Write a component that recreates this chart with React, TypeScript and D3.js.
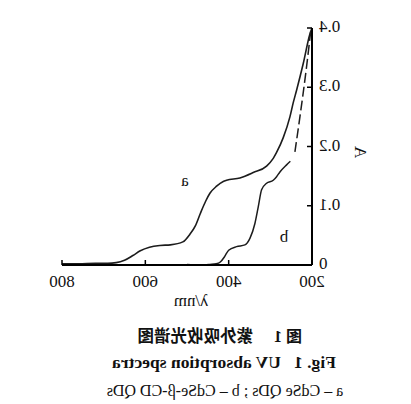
import React from "react";
import * as d3 from "d3";

// ---- data (wavelength nm, absorbance) ----
const X_TICKS = [200, 400, 600, 800];
const Y_TICKS = [0, 0.1, 0.2, 0.3, 0.4];
const Y_TICK_LABELS = ["0", "0.1", "0.2", "0.3", "0.4"];

// curve a: CdSe QDs
const A_WAVE = [800, 760, 720, 690, 670, 650, 630, 612, 590, 565, 540, 510, 493, 480, 468, 455, 445, 429, 413, 405, 373, 341, 309, 293, 285, 269, 253, 245, 237, 221, 205, 200];
const A_ABS = [0.002, 0.002, 0.003, 0.003, 0.004, 0.008, 0.016, 0.024, 0.03, 0.033, 0.034, 0.039, 0.052, 0.066, 0.087, 0.108, 0.121, 0.133, 0.141, 0.143, 0.147, 0.156, 0.167, 0.18, 0.19, 0.215, 0.25, 0.274, 0.295, 0.34, 0.39, 0.4];

// curve b: CdSe-β-CD QDs
const B_WAVE = [500, 470, 445, 430, 420, 410, 400, 381, 361, 349, 337, 329, 321, 309, 293, 285, 277, 261, 252, 241, 229, 213, 203];
const B_ABS = [0.001, 0.0, 0.001, 0.002, 0.005, 0.014, 0.025, 0.031, 0.034, 0.045, 0.07, 0.098, 0.127, 0.138, 0.143, 0.149, 0.157, 0.169, 0.175, 0.191, 0.25, 0.335, 0.395];
const B_BREAK = 247; // portion below this wavelength is drawn broken

const SERIF = "'Liberation Serif', 'DejaVu Serif', serif";
const CJK = "'Noto Sans CJK SC', sans-serif";

export default function App() {
  const W = 411;
  const H = 404;
  const x = d3.scaleLinear().domain([200, 800]).range([99, 349]);
  const y = d3.scaleLinear().domain([0, 0.4]).range([265, 28]);

  const toPts = (w: number[], a: number[]) =>
    w.map((v, i) => [v, a[i]] as [number, number]).sort((p, q) => p[0] - q[0]);

  const line = d3
    .line<[number, number]>()
    .x((d) => x(d[0]))
    .y((d) => y(d[1]))
    .curve(d3.curveMonotoneX);

  const aPts = toPts(A_WAVE, A_ABS);
  const bPts = toPts(B_WAVE, B_ABS);
  const bSolid = bPts.filter((d) => d[0] >= B_BREAK);
  const bBroken = bPts.filter((d) => d[0] <= 243);

  const ink = "#1c1c1c";

  return (
    <svg
      width={W}
      height={H}
      style={{ position: "absolute", left: 0, top: 0, background: "#fff" }}
    >
      <defs>
        <clipPath id="cap3">
          <rect x={66} y={375} width={244} height={30} />
        </clipPath>
      </defs>
      <g transform={`translate(${W},0) scale(-1,1)`}>
        {/* curves */}
        <path d={line(aPts) || ""} fill="none" stroke={ink} strokeWidth={1.6} />
        <path d={line(bSolid) || ""} fill="none" stroke={ink} strokeWidth={1.5} />
        <path
          d={line(bBroken) || ""}
          fill="none"
          stroke={ink}
          strokeWidth={1.5}
          strokeDasharray="10,4"
        />

        {/* axes */}
        <line x1={x(200)} x2={x(800)} y1={y(0)} y2={y(0)} stroke="#000" strokeWidth={2} />
        <line x1={x(200)} x2={x(200)} y1={y(0)} y2={y(0.4)} stroke="#000" strokeWidth={2} />
        {X_TICKS.map((t) => (
          <g key={"x" + t}>
            <line x1={x(t)} x2={x(t)} y1={y(0)} y2={y(0) - 5} stroke="#000" strokeWidth={1.5} />
            <text
              x={x(t)}
              y={287}
              textAnchor="middle"
              fontFamily={SERIF}
              fontSize={17}
              fill="#111"
            >
              {t}
            </text>
          </g>
        ))}
        {Y_TICKS.map((t, i) => (
          <g key={"y" + t}>
            <line x1={x(200)} x2={x(200) + 5} y1={y(t)} y2={y(t)} stroke="#000" strokeWidth={1.5} />
            <text
              x={92}
              y={y(t) + 4}
              textAnchor="end"
              fontFamily={SERIF}
              fontSize={17}
              fill="#111"
            >
              {Y_TICK_LABELS[i]}
            </text>
          </g>
        ))}

        {/* axis titles */}
        <text
          transform={`translate(51,152) rotate(-90)`}
          textAnchor="middle"
          dominantBaseline="central"
          fontFamily={SERIF}
          fontSize={17}
          fill="#111"
        >
          A
        </text>
        <text x={220} y={306} textAnchor="middle" fontFamily={SERIF} fontSize={17} fill="#111">
          λ/nm
        </text>

        {/* curve labels */}
        <text x={226} y={186} textAnchor="middle" fontFamily={SERIF} fontSize={17} fill="#111">
          a
        </text>
        <text x={127} y={242} textAnchor="middle" fontFamily={SERIF} fontSize={17} fill="#111">
          b
        </text>

        {/* caption */}
        <text x={109} y={342} fontFamily={CJK} fontWeight={700} fontSize={16} fill="#111">
          图
          <tspan fontFamily={SERIF} dx={4}>1</tspan>
        </text>
        <text x={158} y={342} fontFamily={CJK} fontWeight={700} fontSize={16.5} fill="#111">
          紫外吸收光谱图
        </text>
        <text
          x={187}
          y={368}
          textAnchor="middle"
          fontFamily={SERIF}
          fontWeight={700}
          fontSize={17.5}
          fill="#111"
          style={{ whiteSpace: "pre" }}
        >
          {"Fig. 1   UV absorption spectra"}
        </text>
        <g clipPath="url(#cap3)">
          <text
            x={186}
            y={396}
            textAnchor="middle"
            fontFamily={SERIF}
            fontSize={16}
            fill="#111"
            style={{ whiteSpace: "pre" }}
          >
            {"a – CdSe QDs ; b – CdSe-β-CD QDs"}
          </text>
        </g>
      </g>
    </svg>
  );
}
